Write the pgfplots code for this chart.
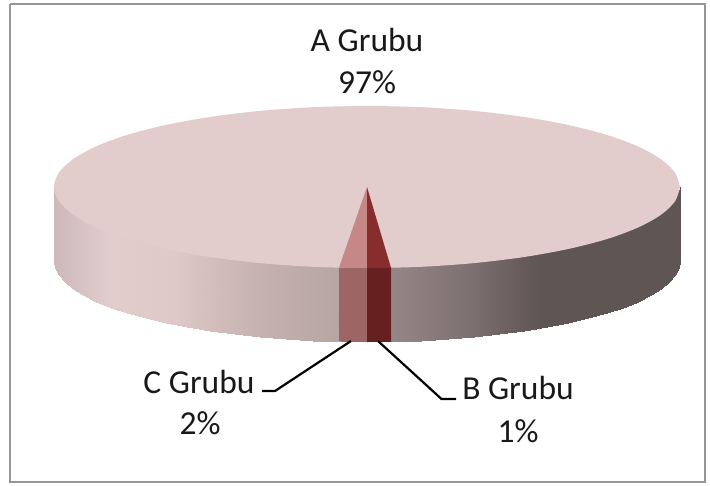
\documentclass[border=0pt]{standalone}
\usepackage{pgfplots}
\pgfplotsset{compat=1.18}
\usepackage{fontspec}
\setmainfont{Carlito}
\definecolor{topface}{RGB}{226,204,204}
\definecolor{ctop}{RGB}{198,135,135}
\definecolor{btop}{RGB}{135,45,45}
\definecolor{cside}{RGB}{155,102,100}
\definecolor{bside}{RGB}{102,32,32}
\definecolor{frame}{RGB}{150,150,150}
\begin{document}
\begin{tikzpicture}[lbl/.style={font=\fontsize{33.5}{33.5}\selectfont, text=black!90, inner sep=0pt}]
\begin{axis}[
  width=710pt, height=485pt, scale only axis,
  xmin=0, xmax=710, ymin=0, ymax=485, y dir=reverse,
  hide axis, clip=false,
  point meta min=54, point meta max=680,
  colormap={side}{
    rgb255(0pt)=(205,185,185);
    rgb255(56pt)=(226,205,205);
    rgb255(121pt)=(222,200,200);
    rgb255(196pt)=(200,180,178);
    rgb255(285pt)=(182,165,162);
    rgb255(337pt)=(150,135,135);
    rgb255(416pt)=(125,112,112);
    rgb255(486pt)=(95,85,83);
    rgb255(626pt)=(95,85,83)
  },
]
% page
\addplot[draw=none, fill=white, no markers, forget plot]
  coordinates {(0,0) (710,0) (710,485) (0,485) (0,0)};
% frame
\addplot[draw=frame, line width=2.5pt, no markers, forget plot]
  coordinates {(10,4) (705,4) (705,482) (10,482) (10,4)};
% side, left of the small slices
\addplot[surf, shader=interp, mesh/rows=2, point meta=x, forget plot] coordinates {
  (54,187) (55.2,191.1) (58.8,198.1) (64.7,205) (72.9,211.7) (83.3,218.2) (95.9,224.5) (110.6,230.5) (127.2,236.1) (145.7,241.3) (165.8,246) (187.5,250.4) (210.5,254.1) (234.7,257.4) (260,260.1) (286,262.2) (312.7,263.8) (339,264.7)
  (54,261) (55.2,268.1) (58.8,275.1) (64.7,282) (72.9,288.7) (83.3,295.2) (95.9,301.5) (110.6,307.5) (127.2,313.1) (145.7,318.3) (165.8,323) (187.5,327.4) (210.5,331.1) (234.7,334.4) (260,337.1) (286,339.2) (312.7,340.8) (339,341.7)
};
% side, right of the small slices
\addplot[surf, shader=interp, mesh/rows=2, point meta=x, forget plot] coordinates {
  (391,264.8) (421.3,263.8) (448,262.2) (474,260.1) (499.3,257.4) (523.5,254.1) (546.5,250.4) (568.2,246) (588.3,241.3) (606.8,236.1) (623.4,230.5) (638.1,224.5) (650.7,218.2) (661.1,211.7) (669.3,205) (675.2,198.1) (678.8,191.1) (680,187)
  (391,341.8) (421.3,340.8) (448,339.2) (474,337.1) (499.3,334.4) (523.5,331.1) (546.5,327.4) (568.2,323) (588.3,318.3) (606.8,313.1) (623.4,307.5) (638.1,301.5) (650.7,295.2) (661.1,288.7) (669.3,282) (675.2,275.1) (678.8,268.1) (680,261)
};
% top face of A Grubu
\addplot[draw=none, fill=topface, smooth, no markers, forget plot] coordinates {
  (680,187) (675.2,172.9) (661.1,159.3) (638.1,146.5) (606.8,134.9) (568.2,125) (523.5,116.9) (474,110.9) (421.3,107.2) (367,106)
  (312.7,107.2) (260,110.9) (210.5,116.9) (165.8,125) (127.2,134.9) (95.9,146.5) (72.9,159.3) (58.8,172.9) (54,187)
  (58.8,201.1) (72.9,214.7) (95.9,227.5) (127.2,239.1) (165.8,249) (210.5,257.1) (260,263.1) (312.7,266.8) (367,268)
  (421.3,266.8) (474,263.1) (523.5,257.1) (568.2,249) (606.8,239.1) (638.1,227.5) (661.1,214.7) (675.2,201.1) (680,187)
};
% C Grubu slice
\addplot[draw=none, fill=cside, no markers, forget plot] coordinates {(339,267.7) (353,267.95) (367,268) (367,342) (353,341.95) (339,341.7)};
\addplot[draw=none, fill=ctop, no markers, forget plot] coordinates {(367,187) (339,267.7) (353,267.95) (367,268)};
% B Grubu slice
\addplot[draw=none, fill=bside, no markers, forget plot] coordinates {(367,268) (379,267.95) (391,267.8) (391,341.8) (379,341.95) (367,342)};
\addplot[draw=none, fill=btop, no markers, forget plot] coordinates {(367,187) (367,268) (379,267.95) (391,267.8)};
% leader lines
\addplot[black, line width=2.2pt, no markers, forget plot] coordinates {(351,341) (275,391) (262,391)};
\addplot[black, line width=2.2pt, no markers, forget plot] coordinates {(378,341) (441.5,399) (456,399)};
% labels
\node[lbl] at (axis cs:367,40) {A Grubu};
\node[lbl] at (axis cs:367,82) {97\%};
\node[lbl] at (axis cs:199,382) {C Grubu};
\node[lbl] at (axis cs:200,423) {2\%};
\node[lbl] at (axis cs:518,388) {B Grubu};
\node[lbl] at (axis cs:518,431) {1\%};
\end{axis}
\end{tikzpicture}
\end{document}
